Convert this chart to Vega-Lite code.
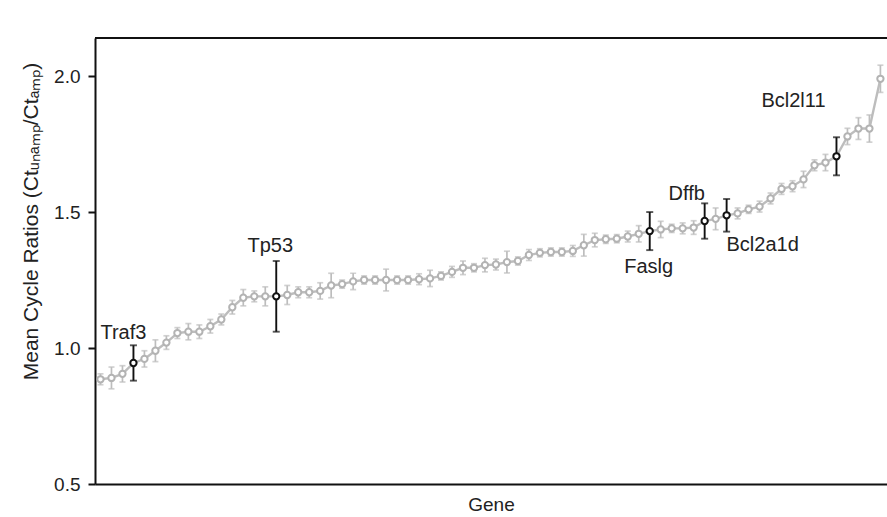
{
  "$schema": "https://vega.github.io/schema/vega-lite/v6.json",
  "autosize": "none",
  "width": 792,
  "height": 446,
  "padding": {"left": 95, "top": 38, "right": 0, "bottom": 33},
  "background": "white",
  "config": {
    "view": {"stroke": null},
    "font": "Liberation Sans",
    "axis": {"grid": false, "domainColor": "#111", "domainWidth": 2, "tickColor": "#111", "tickWidth": 2, "labelColor": "#222", "titleColor": "#222", "titleFontWeight": "normal", "labelFont": "Liberation Sans", "titleFont": "Liberation Sans"}
  },
  "data": {"values": [
    {"rank": 0, "mean": 0.885, "err": 0.02, "hl": ""},
    {"rank": 1, "mean": 0.89, "err": 0.04, "hl": ""},
    {"rank": 2, "mean": 0.905, "err": 0.03, "hl": ""},
    {"rank": 3, "mean": 0.945, "err": 0.065, "hl": "Traf3"},
    {"rank": 4, "mean": 0.96, "err": 0.03, "hl": ""},
    {"rank": 5, "mean": 0.99, "err": 0.04, "hl": ""},
    {"rank": 6, "mean": 1.02, "err": 0.025, "hl": ""},
    {"rank": 7, "mean": 1.055, "err": 0.02, "hl": ""},
    {"rank": 8, "mean": 1.06, "err": 0.03, "hl": ""},
    {"rank": 9, "mean": 1.06, "err": 0.025, "hl": ""},
    {"rank": 10, "mean": 1.08, "err": 0.025, "hl": ""},
    {"rank": 11, "mean": 1.105, "err": 0.02, "hl": ""},
    {"rank": 12, "mean": 1.15, "err": 0.025, "hl": ""},
    {"rank": 13, "mean": 1.185, "err": 0.03, "hl": ""},
    {"rank": 14, "mean": 1.19, "err": 0.02, "hl": ""},
    {"rank": 15, "mean": 1.19, "err": 0.035, "hl": ""},
    {"rank": 16, "mean": 1.19, "err": 0.13, "hl": "Tp53"},
    {"rank": 17, "mean": 1.195, "err": 0.035, "hl": ""},
    {"rank": 18, "mean": 1.205, "err": 0.02, "hl": ""},
    {"rank": 19, "mean": 1.205, "err": 0.02, "hl": ""},
    {"rank": 20, "mean": 1.21, "err": 0.03, "hl": ""},
    {"rank": 21, "mean": 1.23, "err": 0.045, "hl": ""},
    {"rank": 22, "mean": 1.235, "err": 0.015, "hl": ""},
    {"rank": 23, "mean": 1.245, "err": 0.03, "hl": ""},
    {"rank": 24, "mean": 1.25, "err": 0.015, "hl": ""},
    {"rank": 25, "mean": 1.25, "err": 0.015, "hl": ""},
    {"rank": 26, "mean": 1.25, "err": 0.04, "hl": ""},
    {"rank": 27, "mean": 1.25, "err": 0.015, "hl": ""},
    {"rank": 28, "mean": 1.25, "err": 0.015, "hl": ""},
    {"rank": 29, "mean": 1.253, "err": 0.02, "hl": ""},
    {"rank": 30, "mean": 1.256, "err": 0.03, "hl": ""},
    {"rank": 31, "mean": 1.265, "err": 0.015, "hl": ""},
    {"rank": 32, "mean": 1.28, "err": 0.02, "hl": ""},
    {"rank": 33, "mean": 1.295, "err": 0.025, "hl": ""},
    {"rank": 34, "mean": 1.295, "err": 0.015, "hl": ""},
    {"rank": 35, "mean": 1.305, "err": 0.025, "hl": ""},
    {"rank": 36, "mean": 1.307, "err": 0.02, "hl": ""},
    {"rank": 37, "mean": 1.316, "err": 0.04, "hl": ""},
    {"rank": 38, "mean": 1.32, "err": 0.015, "hl": ""},
    {"rank": 39, "mean": 1.342, "err": 0.02, "hl": ""},
    {"rank": 40, "mean": 1.35, "err": 0.015, "hl": ""},
    {"rank": 41, "mean": 1.353, "err": 0.015, "hl": ""},
    {"rank": 42, "mean": 1.353, "err": 0.015, "hl": ""},
    {"rank": 43, "mean": 1.357, "err": 0.02, "hl": ""},
    {"rank": 44, "mean": 1.378, "err": 0.04, "hl": ""},
    {"rank": 45, "mean": 1.397, "err": 0.025, "hl": ""},
    {"rank": 46, "mean": 1.4, "err": 0.015, "hl": ""},
    {"rank": 47, "mean": 1.402, "err": 0.015, "hl": ""},
    {"rank": 48, "mean": 1.41, "err": 0.02, "hl": ""},
    {"rank": 49, "mean": 1.42, "err": 0.03, "hl": ""},
    {"rank": 50, "mean": 1.43, "err": 0.07, "hl": "Faslg"},
    {"rank": 51, "mean": 1.436, "err": 0.03, "hl": ""},
    {"rank": 52, "mean": 1.44, "err": 0.015, "hl": ""},
    {"rank": 53, "mean": 1.44, "err": 0.02, "hl": ""},
    {"rank": 54, "mean": 1.443, "err": 0.025, "hl": ""},
    {"rank": 55, "mean": 1.467, "err": 0.065, "hl": "Dffb"},
    {"rank": 56, "mean": 1.475, "err": 0.04, "hl": ""},
    {"rank": 57, "mean": 1.488, "err": 0.06, "hl": "Bcl2a1d"},
    {"rank": 58, "mean": 1.495, "err": 0.02, "hl": ""},
    {"rank": 59, "mean": 1.51, "err": 0.015, "hl": ""},
    {"rank": 60, "mean": 1.52, "err": 0.02, "hl": ""},
    {"rank": 61, "mean": 1.55, "err": 0.02, "hl": ""},
    {"rank": 62, "mean": 1.585, "err": 0.02, "hl": ""},
    {"rank": 63, "mean": 1.595, "err": 0.02, "hl": ""},
    {"rank": 64, "mean": 1.62, "err": 0.03, "hl": ""},
    {"rank": 65, "mean": 1.672, "err": 0.02, "hl": ""},
    {"rank": 66, "mean": 1.682, "err": 0.03, "hl": ""},
    {"rank": 67, "mean": 1.705, "err": 0.07, "hl": "Bcl2l11"},
    {"rank": 68, "mean": 1.778, "err": 0.03, "hl": ""},
    {"rank": 69, "mean": 1.807, "err": 0.04, "hl": ""},
    {"rank": 70, "mean": 1.807, "err": 0.05, "hl": ""},
    {"rank": 71, "mean": 1.99, "err": 0.05, "hl": ""}
  ]},
  "transform": [
    {"calculate": "datum.mean - datum.err", "as": "lo"},
    {"calculate": "datum.mean + datum.err", "as": "hi"}
  ],
  "encoding": {
    "x": {"field": "rank", "type": "quantitative", "scale": {"domain": [-0.5, 71.6], "nice": false, "zero": false},
      "axis": {"title": "Gene", "titleFontSize": 19, "titlePadding": 11, "labels": false, "ticks": false, "values": []}},
    "y": {"field": "mean", "type": "quantitative", "scale": {"domain": [0.5, 2.14], "nice": false, "zero": false},
      "axis": {"title": "Mean Cycle Ratios (Ctᵤₙₐₘₚ/Ctₐₘₚ)", "titleFontSize": 21, "titleY": 183, "titlePadding": 12, "values": [0.5, 1.0, 1.5, 2.0], "format": ".1f", "labelFontSize": 19, "tickSize": 7, "labelPadding": 8}}
  },
  "layer": [
    {"transform": [{"filter": "datum.hl == ''"}], "mark": {"type": "rule", "color": "#bdbdbd", "strokeWidth": 1.7},
      "encoding": {"y": {"field": "lo", "type": "quantitative"}, "y2": {"field": "hi"}}},
    {"transform": [{"filter": "datum.hl == ''"}], "mark": {"type": "tick", "orient": "horizontal", "color": "#bdbdbd", "size": 6, "thickness": 1.7},
      "encoding": {"y": {"field": "lo", "type": "quantitative"}}},
    {"transform": [{"filter": "datum.hl == ''"}], "mark": {"type": "tick", "orient": "horizontal", "color": "#bdbdbd", "size": 6, "thickness": 1.7},
      "encoding": {"y": {"field": "hi", "type": "quantitative"}}},
    {"mark": {"type": "line", "color": "#bdbdbd", "strokeWidth": 2.4}, "encoding": {}},
    {"transform": [{"filter": "datum.hl == ''"}], "mark": {"type": "point", "shape": "circle", "filled": false, "fill": "white", "fillOpacity": 1, "stroke": "#b3b3b3", "strokeWidth": 2, "size": 40, "opacity": 1}, "encoding": {}},
    {"transform": [{"filter": "datum.hl != ''"}], "mark": {"type": "rule", "color": "#111", "strokeWidth": 1.9},
      "encoding": {"y": {"field": "lo", "type": "quantitative"}, "y2": {"field": "hi"}}},
    {"transform": [{"filter": "datum.hl != ''"}], "mark": {"type": "tick", "orient": "horizontal", "color": "#111", "size": 7, "thickness": 1.9},
      "encoding": {"y": {"field": "lo", "type": "quantitative"}}},
    {"transform": [{"filter": "datum.hl != ''"}], "mark": {"type": "tick", "orient": "horizontal", "color": "#111", "size": 7, "thickness": 1.9},
      "encoding": {"y": {"field": "hi", "type": "quantitative"}}},
    {"transform": [{"filter": "datum.hl != ''"}], "mark": {"type": "point", "shape": "circle", "filled": false, "fill": "white", "fillOpacity": 1, "stroke": "#111", "strokeWidth": 2, "size": 40, "opacity": 1}, "encoding": {}},
    {"transform": [{"filter": "datum.hl == 'Traf3'"}], "mark": {"type": "text", "fontSize": 20, "color": "#222", "dx": -10, "dy": -30}, "encoding": {"text": {"field": "hl"}}},
    {"transform": [{"filter": "datum.hl == 'Tp53'"}], "mark": {"type": "text", "fontSize": 20, "color": "#222", "dx": -6, "dy": -50}, "encoding": {"text": {"field": "hl"}}},
    {"transform": [{"filter": "datum.hl == 'Faslg'"}], "mark": {"type": "text", "fontSize": 20, "color": "#222", "dx": -1, "dy": 36}, "encoding": {"text": {"field": "hl"}}},
    {"transform": [{"filter": "datum.hl == 'Dffb'"}], "mark": {"type": "text", "fontSize": 20, "color": "#222", "dx": -18, "dy": -27}, "encoding": {"text": {"field": "hl"}}},
    {"transform": [{"filter": "datum.hl == 'Bcl2a1d'"}], "mark": {"type": "text", "fontSize": 20, "color": "#222", "dx": 36, "dy": 30}, "encoding": {"text": {"field": "hl"}}},
    {"transform": [{"filter": "datum.hl == 'Bcl2l11'"}], "mark": {"type": "text", "fontSize": 20, "color": "#222", "dx": -43, "dy": -55}, "encoding": {"text": {"field": "hl"}}},
    {"mark": {"type": "rule", "color": "#111", "strokeWidth": 2}, "encoding": {"x": null, "y": {"datum": 2.14}}}
  ]
}
